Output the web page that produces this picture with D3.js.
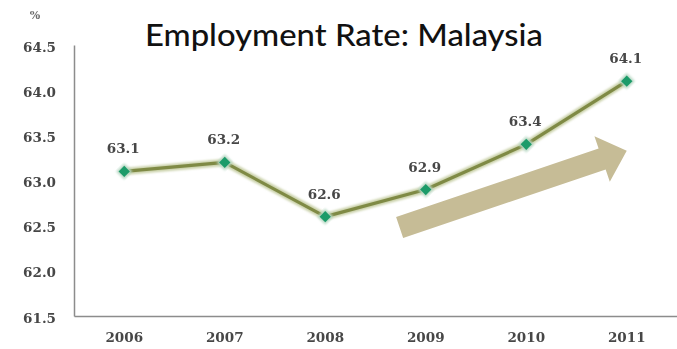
<!DOCTYPE html>
<html>
<head>
<meta charset="utf-8">
<script src="https://cdn.jsdelivr.net/npm/d3@7"></script>
<style>
  html, body { margin: 0; padding: 0; background: #fff; }
  svg { display: block; }
</style>
</head>
<body>
<div id="chart"></div>
<script>
// Employment rate, Malaysia (%)
const years = ["2006", "2007", "2008", "2009", "2010", "2011"];
const rates = [63.1, 63.2, 62.6, 62.9, 63.4, 64.1];
const yTicks = [61.5, 62.0, 62.5, 63.0, 63.5, 64.0, 64.5];
const titleText = "Employment Rate: Malaysia";
const unitText = "%";

// Trend arrow, expressed in data space (category position, value)
const trendFrom = { pos: 2.74, value: 62.48 };
const trendTo = { pos: 5, value: 63.33 };

const W = 677, H = 349;
const plot = { left: 74, right: 677, top: 45, bottom: 316 };
const labelFont = "'DejaVu Serif', serif";

const svg = d3.select("#chart").append("svg")
  .attr("width", W).attr("height", H);

const defs = svg.append("defs");
const soft = defs.append("filter").attr("id", "soft")
  .attr("x", "-20%").attr("y", "-20%").attr("width", "140%").attr("height", "140%");
soft.append("feGaussianBlur").attr("stdDeviation", 0.5);

const glow = defs.append("filter").attr("id", "glow")
  .attr("x", "-10%").attr("y", "-30%").attr("width", "120%").attr("height", "160%");
glow.append("feGaussianBlur").attr("stdDeviation", 1.2);

const x = d3.scaleBand().domain(years).range([plot.left, plot.right]);
const xc = d => x(d) + x.bandwidth() / 2;
const xPos = p => plot.left + x.step() * (p + 0.5);
const y = d3.scaleLinear().domain([61.5, 64.5]).range([plot.bottom, plot.top]);

const data = years.map((yr, i) => ({ year: yr, value: rates[i] }));

function styleLabels(sel) {
  sel.attr("font-family", labelFont)
    .attr("font-weight", "bold")
    .attr("font-size", 13.5)
    .attr("fill", "#474747")
    .attr("filter", "url(#soft)");
}

// Y axis
const yAxis = svg.append("g")
  .attr("transform", `translate(${plot.left},0)`)
  .call(d3.axisLeft(y).tickValues(yTicks).tickFormat(d3.format(".1f")).tickSize(0).tickPadding(18));
yAxis.select(".domain").attr("stroke", "#8c8c8c").attr("stroke-width", 1.5);
yAxis.selectAll("text").call(styleLabels).attr("dy", "0.45em");

// X axis
const xAxis = svg.append("g")
  .attr("transform", `translate(0,${plot.bottom})`)
  .call(d3.axisBottom(x).tickSize(0).tickPadding(16));
xAxis.select(".domain").attr("stroke", "#8c8c8c").attr("stroke-width", 1.5);
xAxis.selectAll("text").call(styleLabels);

// Unit label
svg.append("text")
  .attr("x", 35).attr("y", 19)
  .attr("text-anchor", "middle")
  .attr("font-family", labelFont)
  .attr("font-weight", "bold")
  .attr("font-size", 11)
  .attr("fill", "#6a6a6a")
  .attr("filter", "url(#soft)")
  .text(unitText);

// Title
svg.append("text")
  .attr("x", 145).attr("y", 46)
  .attr("font-family", "Lato, 'Open Sans', sans-serif")
  .attr("font-weight", 500)
  .attr("font-size", 31)
  .attr("textLength", 398)
  .attr("lengthAdjust", "spacingAndGlyphs")
  .attr("fill", "#111")
  .text(titleText);

// Trend arrow
(function drawArrow() {
  const x0 = xPos(trendFrom.pos), y0 = y(trendFrom.value);
  const x1 = xPos(trendTo.pos), y1 = y(trendTo.value);
  const dx = x1 - x0, dy = y1 - y0;
  const len = Math.hypot(dx, dy);
  const ux = dx / len, uy = dy / len;
  const nx = -uy, ny = ux;
  const shaftHalf = 11, headHalf = 24, headLen = 26;
  const bx = x1 - ux * headLen, by = y1 - uy * headLen;
  const pts = [
    [x0 + nx * shaftHalf, y0 + ny * shaftHalf],
    [bx + nx * shaftHalf, by + ny * shaftHalf],
    [bx + nx * headHalf, by + ny * headHalf],
    [x1, y1],
    [bx - nx * headHalf, by - ny * headHalf],
    [bx - nx * shaftHalf, by - ny * shaftHalf],
    [x0 - nx * shaftHalf, y0 - ny * shaftHalf]
  ];
  svg.append("path")
    .attr("d", d3.line()(pts) + "Z")
    .attr("fill", "#c6bc96");
})();

// Line with a pale halo
const line = d3.line().x(d => xc(d.year)).y(d => y(d.value));
svg.append("path").datum(data)
  .attr("d", line)
  .attr("fill", "none")
  .attr("stroke", "#c9d0a8")
  .attr("stroke-width", 7)
  .attr("stroke-linejoin", "round")
  .attr("filter", "url(#glow)");
svg.append("path").datum(data)
  .attr("d", line)
  .attr("fill", "none")
  .attr("stroke", "#7f8a45")
  .attr("stroke-width", 3.2)
  .attr("stroke-linejoin", "round");

// Diamond markers (rotated squares)
svg.append("g").selectAll("path")
  .data(data).join("path")
  .attr("transform", d => `translate(${xc(d.year)},${y(d.value)}) rotate(45)`)
  .attr("d", d3.symbol().type(d3.symbolSquare).size(130))
  .attr("fill", "#b8d8c4")
  .attr("filter", "url(#glow)");
svg.append("g").selectAll("path")
  .data(data).join("path")
  .attr("transform", d => `translate(${xc(d.year)},${y(d.value)}) rotate(45)`)
  .attr("d", d3.symbol().type(d3.symbolSquare).size(64))
  .attr("fill", "#1c9b69");

// Value labels
svg.append("g").selectAll("text")
  .data(data).join("text")
  .attr("x", d => xc(d.year) - 1)
  .attr("y", d => y(d.value) - 18)
  .attr("text-anchor", "middle")
  .call(styleLabels)
  .text(d => d3.format(".1f")(d.value));
</script>
</body>
</html>
